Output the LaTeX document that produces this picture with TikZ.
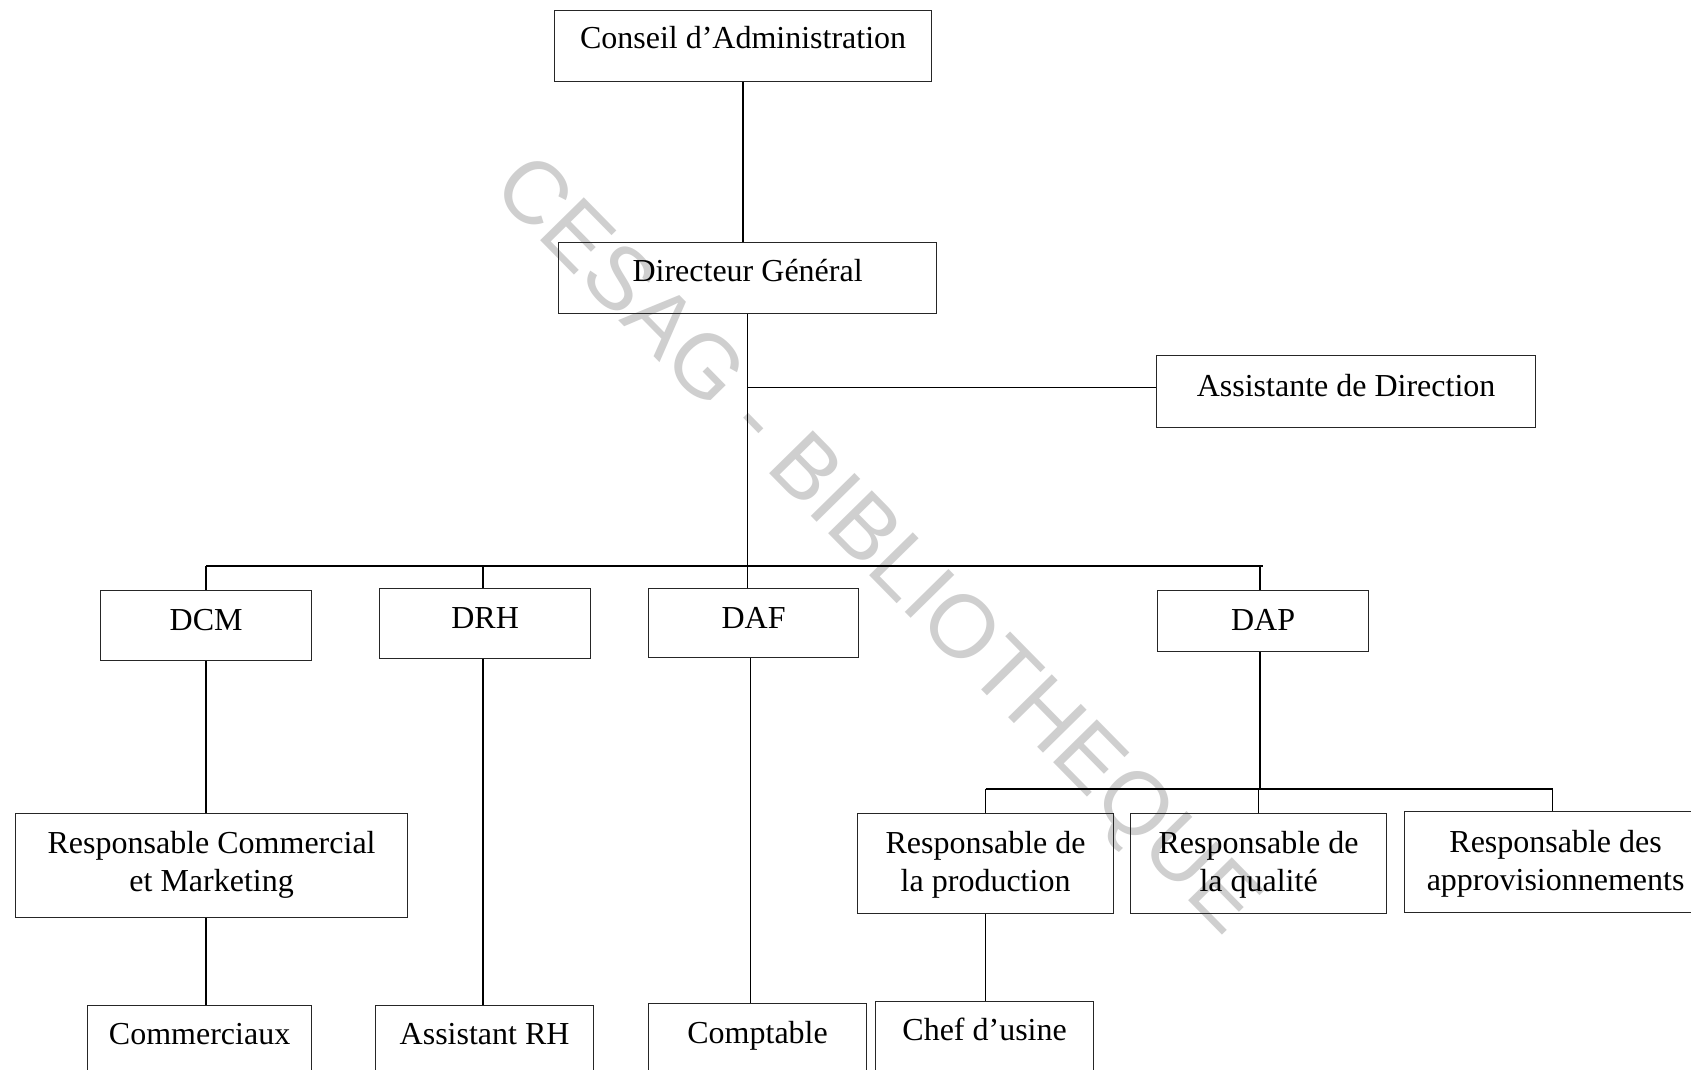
\documentclass[tikz,border=0pt]{standalone}
\usepackage{fontspec}
\setmainfont{Liberation Serif}
\newfontfamily\wmfont{Liberation Sans}
\begin{document}
\begin{tikzpicture}[x=1pt,y=-1pt,
  box/.style={draw=black!85, line width=1.2pt, inner sep=0pt, anchor=north west},
  txt/.style={font=\fontsize{32}{38}\selectfont, inner sep=0pt, anchor=base},
  link/.style={line width=1.5pt, black},
  thicklink/.style={line width=2.4pt, black},
  wmark/.style={text=black!19, font=\wmfont\fontsize{89}{89}\selectfont, inner sep=0pt}]
\useasboundingbox (0,0) rectangle (1691,1070);
\clip (0,0) rectangle (1691,1070);
\fill[white] (0,0) rectangle (1691,1070);

% watermark
\node[wmark, rotate=-45.5] (wm) at (874,548) {CESAG - BIBLIOTHEQUE};

% boxes
\node[box, minimum width=377pt, minimum height=71pt] (cons) at (554,10) {};
\node[box, minimum width=378pt, minimum height=71pt] (dg) at (558,242) {};
\node[box, minimum width=379pt, minimum height=72pt] (assist) at (1156,355) {};
\node[box, minimum width=211pt, minimum height=70pt] (dcm) at (100,590) {};
\node[box, minimum width=211pt, minimum height=70pt] (drh) at (379,588) {};
\node[box, minimum width=210pt, minimum height=69pt] (daf) at (648,588) {};
\node[box, minimum width=211pt, minimum height=61pt] (dap) at (1157,590) {};
\node[box, minimum width=392pt, minimum height=104pt] (rcm) at (15,813) {};
\node[box, minimum width=256pt, minimum height=100pt] (rprod) at (857,813) {};
\node[box, minimum width=256pt, minimum height=100pt] (rqual) at (1130,813) {};
\node[box, minimum width=302pt, minimum height=101pt] (rappro) at (1404,811) {};
\node[box, minimum width=224pt, minimum height=100pt] (comm) at (87,1005) {};
\node[box, minimum width=218pt, minimum height=100pt] (arh) at (375,1005) {};
\node[box, minimum width=218pt, minimum height=100pt] (compt) at (648,1003) {};
\node[box, minimum width=218pt, minimum height=100pt] (chef) at (875,1001) {};

% texts
\node[txt] (tcons) at ([yshift=-39pt]cons.north) {Conseil d’Administration};
\node[txt] (tdg) at ([yshift=-39pt]dg.north) {Directeur Général};
\node[txt] (tassist) at ([yshift=-41pt]assist.north) {Assistante de Direction};
\node[txt] (tdcm) at ([yshift=-40pt]dcm.north) {DCM};
\node[txt] (tdrh) at ([yshift=-40pt]drh.north) {DRH};
\node[txt] (tdaf) at ([yshift=-40pt]daf.north) {DAF};
\node[txt] (tdap) at ([yshift=-40pt]dap.north) {DAP};
\node[txt] (trcm1) at ([yshift=-40pt]rcm.north) {Responsable Commercial};
\node[txt] (trcm2) at ([yshift=-78pt]rcm.north) {et Marketing};
\node[txt] (trprod1) at ([yshift=-40pt]rprod.north) {Responsable de};
\node[txt] (trprod2) at ([yshift=-78pt]rprod.north) {la production};
\node[txt] (trqual1) at ([yshift=-40pt]rqual.north) {Responsable de};
\node[txt] (trqual2) at ([yshift=-78pt]rqual.north) {la qualité};
\node[txt] (trappro1) at ([yshift=-41pt]rappro.north) {Responsable des};
\node[txt] (trappro2) at ([yshift=-79pt]rappro.north) {approvisionnements};
\node[txt] (tcomm) at ([yshift=-39pt]comm.north) {Commerciaux};
\node[txt] (tarh) at ([yshift=-39pt]arh.north) {Assistant RH};
\node[txt] (tcompt) at ([yshift=-40pt]compt.north) {Comptable};
\node[txt] (tchef) at ([yshift=-39pt]chef.north) {Chef d’usine};

% bus coordinates
\coordinate (bus) at (0,566);
\coordinate (pbus) at (0,789);
\coordinate (ajoin) at ([yshift=4pt]assist.west);

% connectors
\draw[link] (cons.south) -- (cons.south |- dg.north);
\draw[link] (dg.south) -- (dg.south |- daf.north);
\draw[link] (dg.south |- ajoin) -- (ajoin);
\draw[link] (dcm.north |- bus) -- (dap.north |- bus);
\draw[link] (dcm.north |- bus) -- (dcm.north);
\draw[link] ([xshift=-2pt]drh.north |- bus) -- ([xshift=-2pt]drh.north);
\draw[link] ([xshift=-3pt]dap.north |- bus) -- ([xshift=-3pt]dap.north);

\draw[link] (dcm.south) -- (dcm.south |- rcm.north);
\draw[link] (dcm.south |- rcm.south) -- (dcm.south |- comm.north);
\draw[link] ([xshift=-2pt]drh.south) -- ([xshift=-2pt]drh.south |- arh.north);
\draw[link] ([xshift=-3pt]daf.south) -- ([xshift=-3pt]daf.south |- compt.north);

\draw[link] ([xshift=-3pt]dap.south) -- ([xshift=-3pt]dap.south |- pbus);
\draw[thicklink] (rprod.north |- pbus) -- ([xshift=-3pt]rappro.north |- pbus);
\draw[link] (rprod.north |- pbus) -- (rprod.north);
\draw[link] (rqual.north |- pbus) -- (rqual.north);
\draw[link] ([xshift=-3pt]rappro.north |- pbus) -- ([xshift=-3pt]rappro.north);
\draw[link] (rprod.south) -- (rprod.south |- chef.north);
\end{tikzpicture}
\end{document}
